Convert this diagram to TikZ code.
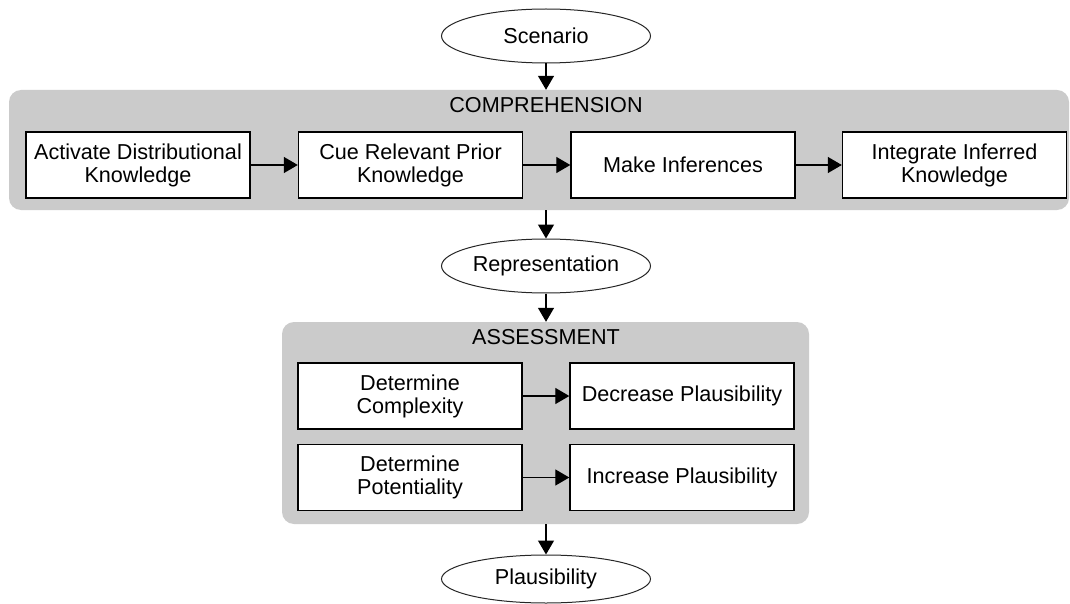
\documentclass[tikz,border=0pt]{standalone}
\usepackage{fontspec}
\setmainfont{Liberation Sans}
\usetikzlibrary{shapes.geometric, arrows.meta}
\definecolor{panelgray}{RGB}{203,203,203}
\begin{document}
\begin{tikzpicture}[
    x=1pt, y=-1pt,
    every node/.style={font=\fontsize{21.6}{23}\selectfont, align=center},
    box/.style={rectangle, draw=black, line width=1.4pt, fill=white, minimum width=224pt, minimum height=66pt, inner sep=2pt},
    oval/.style={ellipse, draw=black!85, line width=1pt, fill=white, minimum width=209pt, minimum height=54pt, inner sep=0pt},
    panel/.style={rectangle, fill=panelgray, rounded corners=12pt, inner sep=0pt},
    arr/.style={-{Triangle[length=14pt, width=16pt]}, line width=1.3pt, black}
]
\useasboundingbox (0,0) rectangle (1070,604);
% comprehension stage
\node[panel, minimum width=1060pt, minimum height=120pt] (comp) at (539,150) {};
\node (comptitle) at (546,105) {COMPREHENSION};
\node[box] (act)   at (138,165)   {Activate Distributional\\Knowledge};
\node[box] (cue)   at (410.5,165) {Cue Relevant Prior\\Knowledge};
\node[box] (infer) at (683,165)   {Make Inferences};
\node[box] (integ) at (954.5,165) {Integrate Inferred\\Knowledge};
% assessment stage
\node[panel, minimum width=527pt, minimum height=202pt] (asmt) at (545.5,423) {};
\node (asmttitle) at (546,337) {ASSESSMENT};
\node[box] (cplx) at (410,396)   {Determine\\Complexity};
\node[box] (decr) at (682,396)   {Decrease Plausibility};
\node[box] (potn) at (410,477.5) {Determine\\Potentiality};
\node[box] (incr) at (682,477.5) {Increase Plausibility};
% inputs and outputs
\node[oval] (scen)  at (546,36)  {Scenario};
\node[oval] (rep)   at (546,266) {Representation};
\node[oval, minimum height=48pt] (plaus) at (546,579) {Plausibility};
\draw[arr] (scen.south) -- (scen.south |- comp.north);
\draw[arr] (act.east)   -- (cue.west);
\draw[arr] (cue.east)   -- (infer.west);
\draw[arr] (infer.east) -- (integ.west);
\draw[arr] (rep.north |- comp.south) -- (rep.north);
\draw[arr] (rep.south) -- (rep.south |- asmt.north);
\draw[arr] (cplx.east) -- (decr.west);
\draw[arr] (potn.east) -- (incr.west);
\draw[arr] (plaus.north |- asmt.south) -- (plaus.north);
\end{tikzpicture}
\end{document}
